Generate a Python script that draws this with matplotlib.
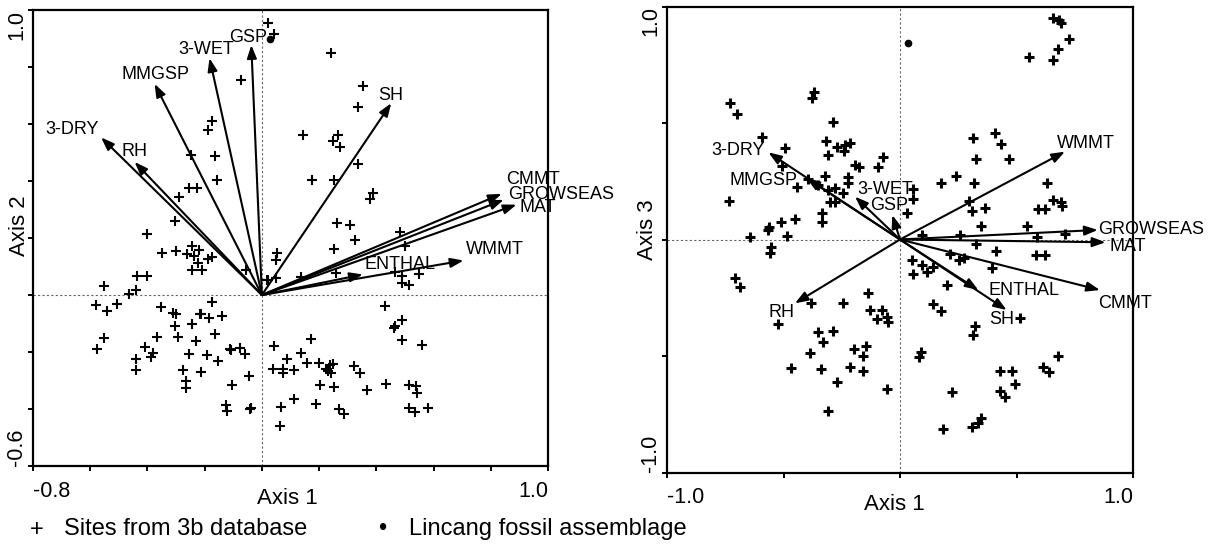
import numpy as np
import matplotlib
matplotlib.use("Agg")
import matplotlib.pyplot as plt

plt.rcParams['font.family'] = ['Liberation Sans', 'DejaVu Sans']

# ---------------- data: panel A (Axis 1 vs Axis 2) ----------------
a_site_x = [0.022, 0.044, -0.074, 0.240, 0.355, 0.337, -0.173, -0.188, -0.249, -0.163,
            -0.157, -0.254, -0.227, -0.291, -0.303, -0.400, 0.142, 0.266, 0.247, 0.272,
            0.337, 0.175, 0.252, 0.388, 0.377, 0.261, 0.307, 0.481, 0.324, 0.252,
            0.501, 0.054, 0.050, -0.057, 0.021, 0.048, 0.138, 0.258, 0.466, 0.491,
            0.491, 0.514, 0.548, -0.348, -0.299, -0.261, -0.243, -0.220, -0.238, -0.224,
            -0.208, -0.243, -0.188, -0.173, 0.019, -0.437, -0.402, -0.553, -0.465, -0.441,
            -0.579, -0.541, -0.507, -0.552, -0.575, -0.354, -0.310, -0.299, -0.303, -0.294,
            -0.366, -0.410, -0.381, -0.389, -0.441, -0.439, -0.243, -0.218, -0.212, -0.186,
            -0.175, -0.140, -0.165, -0.229, -0.256, -0.192, -0.153, -0.113, -0.107, -0.078,
            -0.060, -0.274, -0.264, -0.264, -0.212, -0.045, -0.105, -0.127, -0.122, -0.043,
            -0.038, 0.429, 0.488, 0.464, 0.460, 0.491, 0.561, 0.170, 0.042, 0.135,
            0.089, 0.038, 0.073, 0.073, 0.112, 0.159, 0.199, 0.223, 0.239, 0.248,
            0.243, 0.231, 0.321, 0.342, 0.202, 0.252, 0.369, 0.435, 0.514, 0.540,
            0.543, 0.111, 0.068, 0.188, 0.269, 0.287, 0.514, 0.534, 0.580, 0.064]
a_site_y = [0.953, 0.915, 0.753, 0.848, 0.734, 0.658, 0.609, 0.579, 0.490, 0.489,
            0.405, 0.375, 0.375, 0.343, 0.261, 0.215, 0.563, 0.563, 0.539, 0.518,
            0.460, 0.405, 0.402, 0.358, 0.337, 0.254, 0.247, 0.221, 0.192, 0.163,
            0.171, 0.148, 0.124, 0.089, 0.054, 0.058, 0.062, 0.078, 0.081, 0.066,
            0.043, 0.034, 0.072, 0.148, 0.153, 0.144, 0.171, 0.159, 0.136, 0.113,
            0.089, 0.089, 0.128, 0.132, 0.051, 0.068, 0.068, 0.031, 0.004, 0.019,
            -0.036, -0.057, -0.030, -0.150, -0.188, -0.041, -0.062, -0.066, -0.109, -0.148,
            -0.146, -0.183, -0.202, -0.218, -0.223, -0.264, -0.101, -0.068, -0.066, -0.080,
            -0.024, -0.072, -0.138, -0.162, -0.208, -0.211, -0.232, -0.191, -0.194, -0.185,
            -0.206, -0.264, -0.302, -0.327, -0.269, -0.284, -0.317, -0.386, -0.407, -0.401,
            -0.398, -0.037, -0.089, -0.109, -0.115, -0.159, -0.177, -0.153, -0.179, -0.205,
            -0.224, -0.261, -0.261, -0.273, -0.263, -0.240, -0.238, -0.261, -0.246, -0.243,
            -0.273, -0.267, -0.249, -0.273, -0.317, -0.322, -0.334, -0.313, -0.317, -0.319,
            -0.345, -0.364, -0.393, -0.381, -0.401, -0.416, -0.395, -0.409, -0.398, -0.460]
a_fossil = (0.027, 0.900)
a_var_names = ['3-DRY', 'RH', 'MMGSP', '3-WET', 'GSP', 'SH', 'CMMT', 'GROWSEAS', 'MAT', 'ENTHAL', 'WMMT']
a_var_x = [-0.562, -0.445, -0.375, -0.183, -0.037, 0.452, 0.838, 0.845, 0.890, 0.353, 0.705]
a_var_y = [0.553, 0.467, 0.741, 0.831, 0.877, 0.673, 0.355, 0.334, 0.317, 0.072, 0.121]

# ---------------- data: panel B (Axis 1 vs Axis 3) ----------------
b_site_x = [-0.730, -0.701, -0.368, -0.379, -0.286, -0.594, -0.494, -0.318, -0.311, -0.272,
            -0.236, -0.215, -0.239, -0.508, -0.193, -0.176, -0.322, -0.222, -0.224, -0.393,
            -0.443, -0.351, -0.308, -0.279, -0.243, -0.300, -0.279, -0.734, -0.451, -0.511,
            -0.561, -0.565, -0.336, -0.336, -0.644, -0.484, 0.655, 0.684, 0.691, 0.727,
            0.677, 0.555, 0.655, 0.312, 0.408, 0.433, 0.326, 0.468, -0.072, -0.093,
            0.176, 0.239, 0.319, 0.630, 0.057, 0.057, 0.029, 0.298, 0.308, 0.365,
            0.655, 0.691, 0.694, 0.594, 0.622, 0.346, 0.544, 0.258, 0.093, 0.708,
            0.589, 0.585, 0.621, 0.410, 0.326, 0.215, 0.255, 0.276, 0.393, 0.050,
            0.093, 0.140, 0.115, 0.054, 0.203, 0.140, 0.175, 0.515, 0.322, 0.315,
            -0.136, -0.129, -0.079, -0.100, -0.054, -0.050, -0.146, -0.160, -0.157, 0.090,
            0.083, -0.054, 0.222, 0.429, 0.482, 0.494, 0.429, 0.451, 0.680, 0.612,
            0.641, 0.183, 0.308, 0.336, 0.346, -0.554, -0.558, -0.708, -0.687, -0.382,
            -0.246, -0.522, -0.351, -0.286, -0.329, -0.386, -0.196, -0.468, -0.339, -0.215,
            -0.272, -0.311]
b_site_y = [0.587, 0.539, 0.634, 0.609, 0.506, 0.441, 0.394, 0.424, 0.363, 0.398,
            0.406, 0.413, 0.381, 0.315, 0.320, 0.310, 0.273, 0.270, 0.244, 0.260,
            0.224, 0.234, 0.212, 0.220, 0.201, 0.162, 0.162, 0.167, 0.087, 0.076,
            0.055, 0.041, 0.112, 0.076, 0.009, 0.013, 0.949, 0.942, 0.928, 0.862,
            0.816, 0.785, 0.770, 0.434, 0.456, 0.410, 0.344, 0.344, 0.355, 0.312,
            0.244, 0.273, 0.241, 0.241, 0.217, 0.172, 0.112, 0.165, 0.124, 0.134,
            0.170, 0.162, 0.144, 0.130, 0.130, 0.058, 0.058, 0.019, 0.019, 0.022,
            0.009, -0.067, -0.067, -0.048, -0.021, -0.064, -0.088, -0.081, -0.124, -0.088,
            -0.109, -0.117, -0.141, -0.148, -0.195, -0.278, -0.307, -0.336, -0.370, -0.410,
            -0.231, -0.303, -0.303, -0.341, -0.331, -0.356, -0.457, -0.499, -0.564, -0.481,
            -0.503, -0.642, -0.653, -0.564, -0.564, -0.620, -0.649, -0.677, -0.499, -0.549,
            -0.567, -0.813, -0.803, -0.789, -0.767, -0.031, -0.059, -0.167, -0.203, -0.274,
            -0.274, -0.364, -0.396, -0.393, -0.439, -0.488, -0.470, -0.550, -0.556, -0.549,
            -0.613, -0.735]
b_fossil = (0.033, 0.842)
b_var_names = ['3-DRY', 'MMGSP', '3-WET', 'GSP', 'WMMT', 'GROWSEAS', 'MAT', 'CMMT', 'ENTHAL', 'SH', 'RH']
b_var_x = [-0.565, -0.401, -0.193, -0.033, 0.708, 0.849, 0.882, 0.858, 0.336, 0.458, -0.451]
b_var_y = [0.374, 0.263, 0.184, 0.105, 0.377, 0.041, -0.012, -0.217, -0.217, -0.303, -0.274]

# ---------------- layout (label placement, not data) ----------------
a_label_pos = {'3-DRY': (-0.662, 0.580, 'center'), 'RH': (-0.445, 0.504, 'center'),
               'MMGSP': (-0.372, 0.772, 'center'), '3-WET': (-0.194, 0.862, 'center'),
               'GSP': (-0.049, 0.904, 'center'), 'SH': (0.449, 0.700, 'center'),
               'CMMT': (0.855, 0.405, 'left'), 'GROWSEAS': (0.859, 0.354, 'left'),
               'MAT': (0.901, 0.306, 'left'), 'ENTHAL': (0.481, 0.107, 'center'),
               'WMMT': (0.813, 0.159, 'center')}
b_label_pos = {'3-DRY': (-0.695, 0.384, 'center'), 'MMGSP': (-0.585, 0.255, 'center'),
               '3-WET': (-0.064, 0.215, 'center'), 'GSP': (-0.046, 0.144, 'center'),
               'WMMT': (0.798, 0.414, 'center'), 'GROWSEAS': (0.850, 0.041, 'left'),
               'MAT': (0.897, -0.031, 'left'), 'CMMT': (0.850, -0.274, 'left'),
               'ENTHAL': (0.532, -0.221, 'center'), 'SH': (0.436, -0.342, 'center'),
               'RH': (-0.508, -0.312, 'center')}

W, H = 1220, 545
fig = plt.figure(figsize=(W / 100, H / 100), dpi=100)
fig.patch.set_facecolor('white')

ax1 = fig.add_axes([33 / W, 1 - 466 / H, 515 / W, 456 / H])
ax2 = fig.add_axes([667 / W, 1 - 472.5 / H, 466 / W, 466 / H])


def style_axes(ax, xlim, ylim, xticks, yticks, xlab, ylab, xl_pos, yl_pos):
    ax.set_xlim(*xlim)
    ax.set_ylim(*ylim)
    for s in ax.spines.values():
        s.set_linewidth(1.6)
    xlabels = [''] * len(xticks)
    xlabels[0] = f'{xticks[0]:.1f}'
    xlabels[-1] = f'{xticks[-1]:.1f}'
    ylabels = [''] * len(yticks)
    ylabels[0] = f'{yticks[0]:.1f}'
    ylabels[-1] = f'{yticks[-1]:.1f}'
    ax.set_xticks(xticks, xlabels)
    ax.set_yticks(yticks, ylabels)
    ax.tick_params(direction='out', length=3.5, width=1.4, labelsize=15.5,
                   top=False, right=False)
    ax.tick_params(axis='x', pad=7)
    ax.tick_params(axis='y', pad=0.5, labelrotation=90)
    xt = ax.get_xticklabels()
    xt[0].set_ha('left')
    xt[-1].set_ha('right')
    yt = ax.get_yticklabels()
    yt[0].set_va('bottom')
    yt[-1].set_va('top')
    ax.set_xlabel(xlab, fontsize=16)
    ax.set_ylabel(ylab, fontsize=16)
    ax.xaxis.set_label_coords(*xl_pos)
    ax.xaxis.label.set_va('center')
    ax.yaxis.set_label_coords(*yl_pos)
    ax.yaxis.label.set_va('center')
    ax.axhline(0, color='#666666', lw=0.8, ls=(0, (2, 2)), zorder=1)
    ax.axvline(0, color='#666666', lw=0.8, ls=(0, (2, 2)), zorder=1)


def draw_panel(ax, sx, sy, fossil, names, vx, vy, lpos, mew):
    ax.plot(sx, sy, ls='none', marker='+', ms=6.5, mew=mew, color='black', zorder=3)
    ax.plot([fossil[0]], [fossil[1]], ls='none', marker='o', ms=4.5, color='black', zorder=3)
    for n, x, y in zip(names, vx, vy):
        ax.annotate('', xy=(x, y), xytext=(0, 0),
                    arrowprops=dict(arrowstyle='-|>,head_length=0.6,head_width=0.22',
                                    mutation_scale=13, color='black', lw=1.5,
                                    shrinkA=0, shrinkB=0), zorder=4)
        tx, ty, ha = lpos[n]
        ax.text(tx, ty, n, ha=ha, va='center', fontsize=13, zorder=5)


style_axes(ax1, (-0.8, 1.0), (-0.6, 1.0), np.round(np.arange(-0.8, 1.01, 0.2), 1),
           np.round(np.arange(-0.6, 1.01, 0.2), 1), 'Axis 1', 'Axis 2',
           (0.494, -0.072), (-0.027, 0.528))
style_axes(ax2, (-1.0, 1.0), (-1.0, 1.0), np.arange(-1.0, 1.01, 0.5),
           np.arange(-1.0, 1.01, 0.5), 'Axis 1', 'Axis 3',
           (0.487, -0.068), (-0.041, 0.52))

draw_panel(ax1, a_site_x, a_site_y, a_fossil, a_var_names, a_var_x, a_var_y, a_label_pos, 1.5)
draw_panel(ax2, b_site_x, b_site_y, b_fossil, b_var_names, b_var_x, b_var_y, b_label_pos, 2.2)

# legend
fig.text(37 / W, 1 - 530 / H, '+', ha='center', va='center', fontsize=17)
fig.text(64 / W, 1 - 529 / H, 'Sites from 3b database', ha='left', va='center', fontsize=17)
fig.text(382 / W, 1 - 529 / H, '\u2022', ha='center', va='center', fontsize=17)
fig.text(409 / W, 1 - 529 / H, 'Lincang fossil assemblage', ha='left', va='center', fontsize=17)

fig.savefig('out.png', dpi=100)
